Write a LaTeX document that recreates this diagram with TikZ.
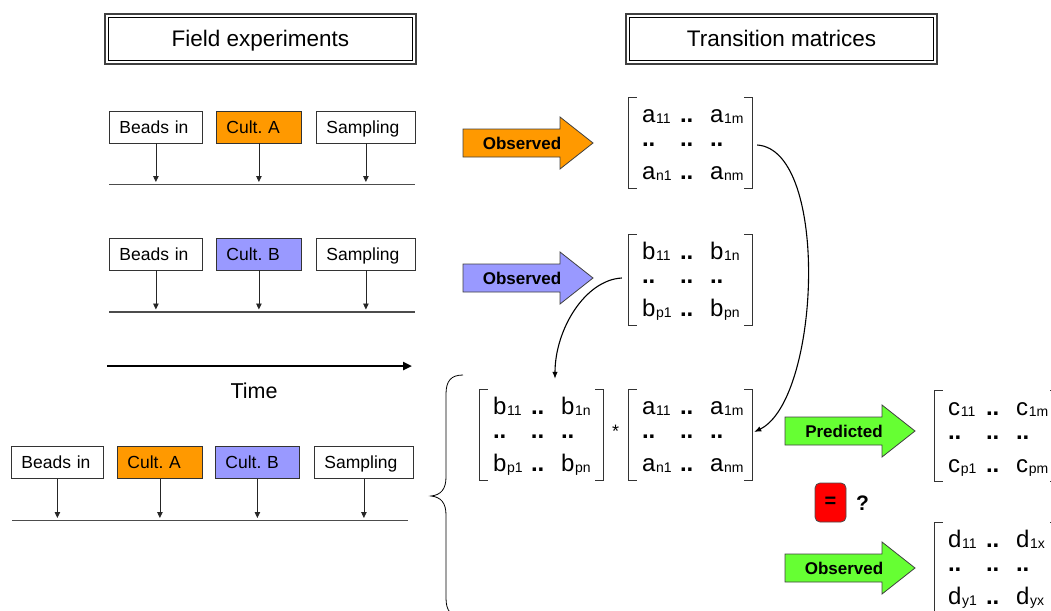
\documentclass[tikz,border=0pt]{standalone}
\usepackage{fontspec}
\setmainfont{Liberation Sans}
\usetikzlibrary{arrows.meta}
\definecolor{cultA}{HTML}{FF9900}
\definecolor{cultB}{HTML}{9999FF}
\definecolor{grn}{HTML}{66FF33}
\newcommand\ent[2]{#1\hspace{0.8pt}\raisebox{-1.2pt}{\fontsize{14}{14}\selectfont #2}}
\newcommand\dd{\textbf{..}}
\newcommand\mtx[4]{\begin{tabular}[t]{@{\hspace{13pt}}p{38pt}@{}p{30pt}@{}p{42pt}@{}}#1&\dd&#2\\\dd&\dd&\dd\\[8pt]\rule{0pt}{18pt}#3&\dd&#4\end{tabular}}
\newcommand\brk[1]{%
  \draw[brk] ([xshift=8pt]#1.north west) -- (#1.north west) -- (#1.south west) -- ([xshift=8pt]#1.south west);
  \draw[brk] ([xshift=-8pt]#1.north east) -- (#1.north east) -- (#1.south east) -- ([xshift=-8pt]#1.south east);}
\newcommand\barrow[5]{%
  \draw[barr, fill=#4] (#2,#3-14) -- ++(97,0) -- ++(0,-12) -- (#2+130,#3) -- (#2+97,#3+26) -- ++(0,-12) -- (#2,#3+14) -- cycle;
  \node[btext] (#1) at (#2+59,#3) {#5};}
\newcommand\hdrframe[1]{%
  \draw[line width=0.9pt, black] ([xshift=4.5pt,yshift=-4.5pt]#1.north west) rectangle ([xshift=-4.5pt,yshift=4.5pt]#1.south east);}
\begin{document}
\begin{tikzpicture}[x=1pt,y=-1pt,
  ebox/.style={draw=black!80, line width=0.8pt, minimum height=32pt, inner xsep=10pt, inner ysep=0pt,
    align=left, font=\fontsize{17.5}{20}\selectfont, text height=12.5pt, text depth=0pt, anchor=west},
  hdr/.style={draw=black!75, line width=2.4pt, minimum width=311pt, minimum height=50pt, inner sep=0pt,
    font=\fontsize{22.5}{24}\selectfont, text height=16pt, text depth=0pt},
  tk/.style={draw=black!85, line width=0.8pt, -{Triangle[length=6pt,width=5.5pt]}},
  tline/.style={draw=black!70, line width=1.1pt},
  mat/.style={inner sep=0pt, minimum width=123pt, minimum height=90pt, text height=24.5pt, text depth=65.5pt,
    font=\fontsize{24}{23.5}\selectfont},
  brk/.style={draw=black!80, line width=0.9pt},
  barr/.style={draw=black!75, line width=0.8pt},
  btext/.style={font=\fontsize{17}{17}\selectfont\bfseries, text height=12.2pt, text depth=0pt, inner sep=0pt},
  curve/.style={draw=black, line width=1.1pt, -{Latex[length=7pt,width=5.5pt]}}
]
\useasboundingbox (0,0) rectangle (1051,610);
\clip (0,0) rectangle (1051,610);

% headers
\node[hdr] (h1) at (260.5,39) {Field experiments};
\hdrframe{h1}
\node[hdr] (h2) at (781.5,39) {Transition matrices};
\hdrframe{h2}

% row 1
\node[ebox, text width=73pt, fill=white] (r1a) at (109,127) {Beads in};
\node[ebox, text width=65pt, fill=cultA] (r1b) at (216,127) {Cult.\ A};
\node[ebox, text width=79pt, fill=white] (r1c) at (316,127) {Sampling};
\coordinate (r1l) at (109,184.5);
\coordinate (r1r) at (415,184.5);
\coordinate (r1t) at (0,182);
\draw[tline] (r1l) -- (r1r);
\draw[tk] (r1a.south) -- (r1a.south |- r1t);
\draw[tk] (r1b.south) -- (r1b.south |- r1t);
\draw[tk] (r1c.south) -- (r1c.south |- r1t);

% row 2
\node[ebox, text width=73pt, fill=white] (r2a) at (109,254) {Beads in};
\node[ebox, text width=65pt, fill=cultB] (r2b) at (216,254) {Cult.\ B};
\node[ebox, text width=79pt, fill=white] (r2c) at (316,254) {Sampling};
\coordinate (r2l) at (109,312);
\coordinate (r2r) at (415,312);
\coordinate (r2t) at (0,309.5);
\draw[tline] (r2l) -- (r2r);
\draw[tk] (r2a.south) -- (r2a.south |- r2t);
\draw[tk] (r2b.south) -- (r2b.south |- r2t);
\draw[tk] (r2c.south) -- (r2c.south |- r2t);

% time
\coordinate (t0) at (107,366);
\coordinate (t1) at (412,366);
\draw[line width=2.6pt, -{Triangle[length=9pt,width=8pt]}] (t0) -- (t1);
\node[anchor=base, font=\fontsize{21.5}{24}\selectfont, inner sep=0pt] (time) at (254,398) {Time};

% row 3
\node[ebox, text width=72pt, fill=white] (r3a) at (11,462.5) {Beads in};
\node[ebox, text width=65pt, fill=cultA] (r3b) at (117,462.5) {Cult.\ A};
\node[ebox, text width=64pt, fill=cultB] (r3c) at (215,462.5) {Cult.\ B};
\node[ebox, text width=79pt, fill=white] (r3d) at (314,462.5) {Sampling};
\coordinate (r3l) at (12,520.5);
\coordinate (r3r) at (408,520.5);
\coordinate (r3t) at (0,518);
\draw[tline] (r3l) -- (r3r);
\draw[tk] (r3a.south) -- (r3a.south |- r3t);
\draw[tk] (r3b.south) -- (r3b.south |- r3t);
\draw[tk] (r3c.south) -- (r3c.south |- r3t);
\draw[tk] (r3d.south) -- (r3d.south |- r3t);

% block arrows
\barrow{o1}{463}{143}{cultA}{Observed}
\barrow{o2}{463}{278}{cultB}{Observed}
\barrow{p1}{785}{431}{grn}{Predicted}
\barrow{o3}{785}{568}{grn}{Observed}

% matrices
\node[mat] (A1) at (690.5,143) {\mtx{\ent{a}{11}}{\ent{a}{1m}}{\ent{a}{n1}}{\ent{a}{nm}}};
\brk{A1}
\node[mat] (B1) at (690.5,280) {\mtx{\ent{b}{11}}{\ent{b}{1n}}{\ent{b}{p1}}{\ent{b}{pn}}};
\brk{B1}
\node[mat] (B2) at (541.5,435) {\mtx{\ent{b}{11}}{\ent{b}{1n}}{\ent{b}{p1}}{\ent{b}{pn}}};
\brk{B2}
\node[mat] (A3) at (690.5,435) {\mtx{\ent{a}{11}}{\ent{a}{1m}}{\ent{a}{n1}}{\ent{a}{nm}}};
\brk{A3}
\node[anchor=base, font=\fontsize{18}{18}\selectfont, inner sep=0pt] (star) at (615.5,437) {*};
\node[mat] (C) at (996.5,436) {\mtx{\ent{c}{11}}{\ent{c}{1m}}{\ent{c}{p1}}{\ent{c}{pm}}};
\brk{C}
\node[mat] (D) at (996.5,568) {\mtx{\ent{d}{11}}{\ent{d}{1x}}{\ent{d}{y1}}{\ent{d}{yx}}};
\brk{D}

% brace
\draw[line width=0.8pt] (463,375) .. controls (451,375) and (446,381) .. (446,394)
  -- (446,477) .. controls (446,489) and (441,495) .. (431,496)
  .. controls (441,497) and (446,503) .. (446,515)
  -- (446,598) .. controls (446,611) and (451,617) .. (463,617);

% equality test
\node[draw=black!70, line width=0.8pt, fill=red, rounded corners=5pt, minimum width=31pt, minimum height=39pt,
  inner sep=0pt, font=\fontsize{20}{20}\selectfont\bfseries] (eq) at (830.5,502.5) {=};
\node[font=\fontsize{21}{21}\selectfont\bfseries, inner sep=0pt] (q) at (862.5,503.5) {?};

% connectors
\draw[curve] ([xshift=5pt,yshift=-2pt]A1.east) .. controls +(73,5) and +(66,-32) .. ([xshift=2pt,yshift=3pt]A3.east);
\draw[curve] ([xshift=-7pt,yshift=2pt]B1.west) .. controls +(-37,2) and +(0,-49) .. ([xshift=13.5pt,yshift=11pt]B2.north);
\end{tikzpicture}
\end{document}
